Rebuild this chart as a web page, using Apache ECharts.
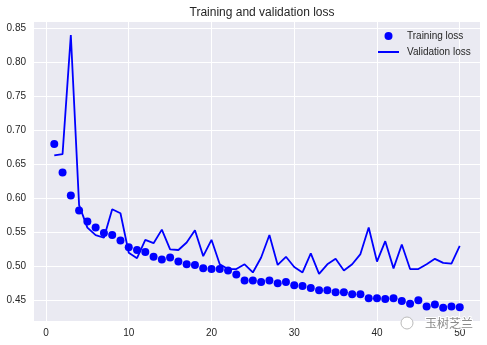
<!DOCTYPE html>
<html>
<head>
<meta charset="utf-8">
<script src="https://cdn.jsdelivr.net/npm/echarts@6/dist/echarts.min.js"></script>
<style>html,body{margin:0;padding:0;background:#fff}#c{width:487px;height:345px}</style>
</head>
<body>
<div id="c"></div>
<script>
const epochs = Array.from({length: 50}, (_, i) => i + 1);
const trainingLoss = [0.680,0.638,0.604,0.582,0.566,0.557,0.549,0.546,0.538,0.528,
  0.524,0.521,0.514,0.510,0.513,0.507,0.503,0.502,0.497,0.496,
  0.496,0.494,0.488,0.479,0.479,0.477,0.479,0.475,0.477,0.472,
  0.471,0.468,0.465,0.465,0.462,0.462,0.459,0.459,0.453,0.453,
  0.452,0.453,0.449,0.445,0.450,0.441,0.444,0.439,0.441,0.440];
const validationLoss = [0.663,0.665,0.840,0.590,0.557,0.546,0.542,0.584,0.578,0.520,
  0.512,0.539,0.534,0.554,0.525,0.524,0.535,0.553,0.515,0.539,
  0.503,0.496,0.496,0.503,0.491,0.513,0.546,0.502,0.514,0.499,
  0.491,0.519,0.489,0.503,0.511,0.494,0.503,0.518,0.557,0.507,
  0.537,0.497,0.532,0.496,0.496,0.503,0.511,0.505,0.504,0.530];
const xTicks = [0, 10, 20, 30, 40, 50];
const yTicks = [0.45, 0.50, 0.55, 0.60, 0.65, 0.70, 0.75, 0.80, 0.85];

const font = "'Liberation Sans', Arial, sans-serif";
const chart = echarts.init(document.getElementById('c'), null, {renderer: 'canvas'});
chart.setOption({
  animation: false,
  backgroundColor: '#ffffff',
  title: {
    text: 'Training and validation loss',
    left: 257, top: 2, textAlign: 'center',
    textStyle: {fontFamily: font, fontSize: 12, fontWeight: 'normal', color: '#262626'}
  },
  legend: {
    orient: 'vertical', left: 373, top: 26,
    itemWidth: 21, itemHeight: 8, itemGap: 6,
    textStyle: {fontFamily: font, fontSize: 10, color: '#262626', padding: [0, 0, 0, 3]},
    data: [
      {name: 'Training loss', icon: 'circle'},
      {name: 'Validation loss', icon: 'path://M0,0h21v2h-21z'}
    ]
  },
  grid: {left: 34, right: 7, top: 22, bottom: 24, show: true, backgroundColor: '#EAEAF2', borderWidth: 0},
  xAxis: {
    type: 'value', min: -1.45, max: 52.45,
    axisLine: {show: false},
    axisTick: {show: false, customValues: xTicks},
    axisLabel: {customValues: xTicks, fontFamily: font, fontSize: 10, color: '#262626', margin: 7},
    splitLine: {show: true, lineStyle: {color: '#ffffff', width: 1}}
  },
  yAxis: {
    type: 'value', min: 0.4196, max: 0.8593,
    axisLine: {show: false},
    axisTick: {show: false, customValues: yTicks},
    axisLabel: {customValues: yTicks, fontFamily: font, fontSize: 10, color: '#262626', margin: 8,
      formatter: v => v.toFixed(2)},
    splitLine: {show: true, lineStyle: {color: '#ffffff', width: 1}}
  },
  series: [
    {
      name: 'Training loss', type: 'scatter', symbol: 'circle', symbolSize: 8,
      itemStyle: {color: '#0000ff', opacity: 1},
      data: epochs.map((e, i) => [e, trainingLoss[i]])
    },
    {
      name: 'Validation loss', type: 'line', symbol: 'none', showSymbol: false,
      lineStyle: {color: '#0000ff', width: 1.8}, itemStyle: {color: '#0000ff'},
      data: epochs.map((e, i) => [e, validationLoss[i]])
    }
  ],
  graphic: [
    {type: 'circle', shape: {cx: 407, cy: 323, r: 6}, style: {fill: '#ffffff', stroke: '#bbbbbb', lineWidth: 1}, z: 100},
    {type: 'text', left: 424, top: 316, style: {text: '玉树芝兰', fontFamily: "'Noto Sans CJK SC', sans-serif", fontSize: 12, fill: '#8a8a8a', stroke: '#ffffff', lineWidth: 2}, z: 100}
  ]
});
</script>
</body>
</html>
